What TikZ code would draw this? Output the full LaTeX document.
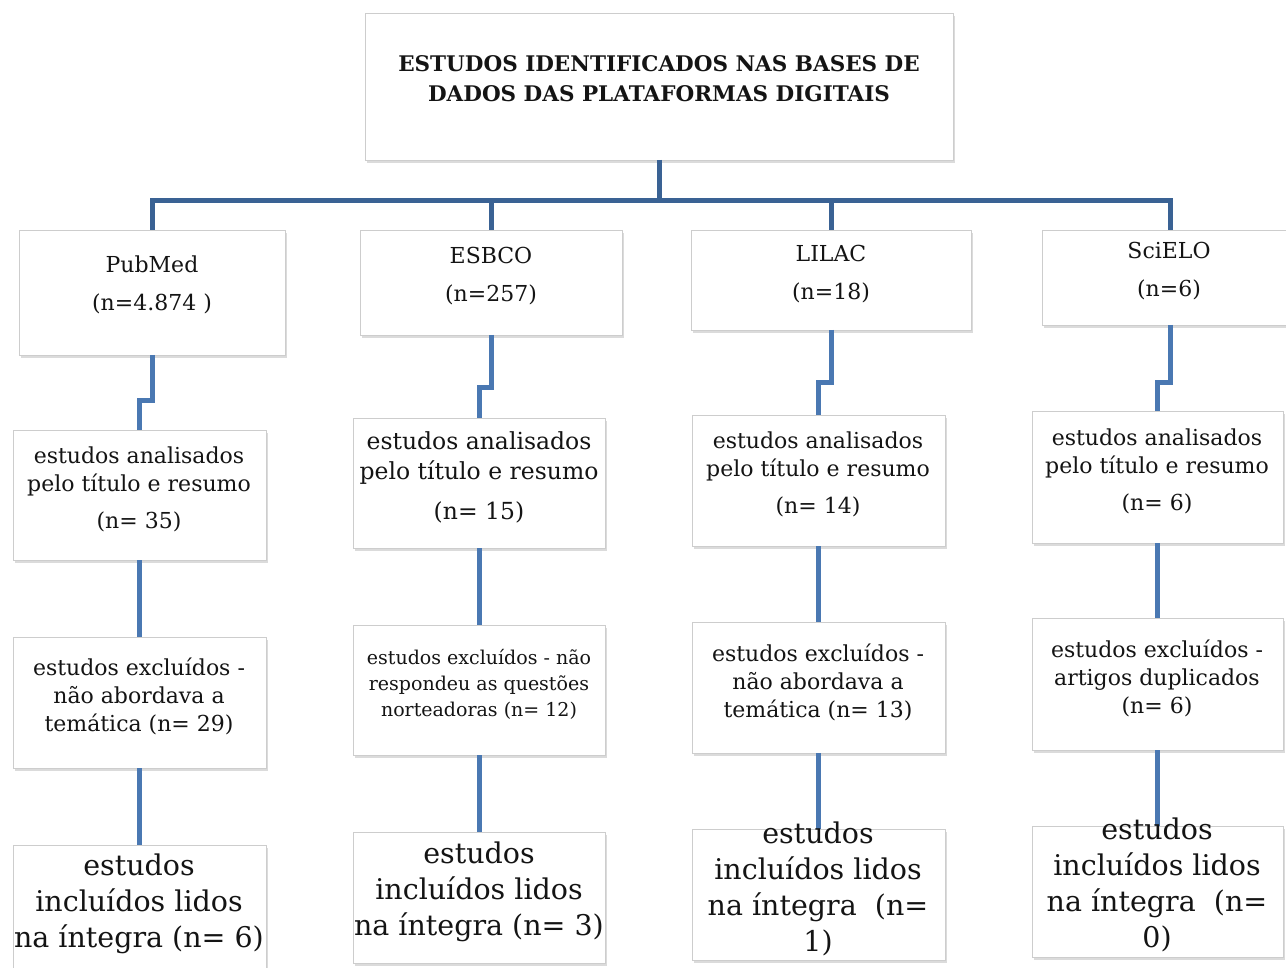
\documentclass[tikz,border=0pt]{standalone}
\usepackage{fontspec}
\setmainfont{DejaVu Serif}
\usetikzlibrary{shadows,calc}
\definecolor{topline}{RGB}{58,98,148}
\definecolor{subline}{RGB}{74,120,178}
\definecolor{boxedge}{RGB}{205,205,205}
\definecolor{txt}{RGB}{20,20,20}
\tikzset{
 box/.style={draw=boxedge,line width=0.8pt,fill=white,inner sep=0pt,outer sep=0pt,
   drop shadow={shadow xshift=2pt,shadow yshift=-3pt,opacity=0.28}},
 topconn/.style={draw=topline,line width=5pt},
 subconn/.style={draw=subline,line width=5pt},
 lbl/.style={align=center,text=txt,inner sep=0pt},
 tbold/.style={lbl,font=\fontsize{21.5}{30}\selectfont\bfseries},
 tmid/.style={lbl,font=\fontsize{22}{28}\selectfont},
 tsmall/.style={lbl,font=\fontsize{19}{26}\selectfont},
 tbig/.style={lbl,font=\fontsize{28.5}{36}\selectfont},
 thead/.style={lbl,font=\fontsize{22}{38}\selectfont},
}
\newcommand\bx[5]{\node[box,minimum width=#4pt,minimum height=#5pt] (#1) at (#2,#3) {};}
\begin{document}
\begin{tikzpicture}[x=1pt,y=-1pt]
\useasboundingbox[fill=white] (0,0) rectangle (1286,968);
% boxes
\bx{top}{659}{86.5}{588}{147}
\bx{p1}{152}{292.5}{266}{125}
\bx{e1}{491}{282.5}{262}{105}
\bx{l1}{831}{280}{280}{100}
\bx{s1}{1165}{277.5}{246}{95}
\bx{p2}{139.5}{495}{253}{130}
\bx{e2}{479}{483}{252}{130}
\bx{l2}{818.5}{480.5}{253}{131}
\bx{s2}{1157.5}{477}{251}{132}
\bx{p3}{139.5}{702.5}{253}{131}
\bx{e3}{479}{690}{252}{130}
\bx{l3}{818.5}{687.5}{253}{131}
\bx{s3}{1157.5}{684}{251}{132}
\bx{p4}{139.5}{910}{253}{130}
\bx{e4}{479}{897.5}{252}{131}
\bx{l4}{818.5}{894.5}{253}{131}
\bx{s4}{1157.5}{891.5}{251}{131}
% connectors
\coordinate (bar) at (659,201);
\draw[topconn] (top.south) -- (bar);
\draw[topconn] (p1.north) |- (bar) -| ([xshift=5pt]s1.north);
\draw[topconn] (e1.north) -- (e1.north |- bar);
\draw[topconn] (l1.north) -- (l1.north |- bar);
\draw[subconn] (p1.south) -- ++(0,46) -| (p2.north);
\draw[subconn] (e1.south) -- ++(0,53) -| (e2.north);
\draw[subconn] (l1.south) -- ++(0,53) -| (l2.north);
\draw[subconn] ([xshift=5pt]s1.south) -- ++(0,58) -| (s2.north);
\draw[subconn] (p2.south) -- (p3.north);
\draw[subconn] (e2.south) -- (e3.north);
\draw[subconn] (l2.south) -- (l3.north);
\draw[subconn] (s2.south) -- (s3.north);
\draw[subconn] (p3.south) -- (p4.north);
\draw[subconn] (e3.south) -- (e4.north);
\draw[subconn] (l3.south) -- (l4.north);
\draw[subconn] (s3.south) -- (s4.north);
% texts
\node[tbold] (ttop) at (659,79) {ESTUDOS IDENTIFICADOS NAS BASES DE\\DADOS DAS PLATAFORMAS DIGITAIS};
\node[thead] (tp1) at (152,285) {PubMed\\(n=4.874 )};
\node[thead] (te1) at (491,276) {ESBCO\\(n=257)};
\node[thead] (tl1) at (831,274) {LILAC\\(n=18)};
\node[thead] (ts1) at (1169,271) {SciELO\\(n=6)};
\node[tmid] (tp2) at (139,489) {estudos analisados\\pelo título e resumo\\[9pt](n= 35)};
\node[tmid,font=\fontsize{23.5}{30}\selectfont] (te2) at (479,477) {estudos analisados\\pelo título e resumo\\[10pt](n= 15)};
\node[tmid] (tl2) at (818,474.5) {estudos analisados\\pelo título e resumo\\[9pt](n= 14)};
\node[tmid] (ts2) at (1157,471) {estudos analisados\\pelo título e resumo\\[9pt](n= 6)};
\node[tmid] (tp3) at (139,696) {estudos excluídos -\\não abordava a\\temática (n= 29)};
\node[tsmall] (te3) at (479,684) {estudos excluídos - não\\respondeu as questões\\norteadoras (n= 12)};
\node[tmid] (tl3) at (818,682) {estudos excluídos -\\não abordava a\\temática (n= 13)};
\node[tmid] (ts3) at (1157,678) {estudos excluídos -\\artigos duplicados\\(n= 6)};
\node[tbig] (tp4) at (139,904) {estudos\\incluídos lidos\\na íntegra (n= 6)};
\node[tbig] (te4) at (479,891.5) {estudos\\incluídos lidos\\na íntegra (n= 3)};
\node[tbig] (tl4) at (818,888.5) {estudos\\incluídos lidos\\na íntegra~~(n=\\1)};
\node[tbig] (ts4) at (1157,885) {estudos\\incluídos lidos\\na íntegra~~(n=\\0)};
\end{tikzpicture}
\end{document}
